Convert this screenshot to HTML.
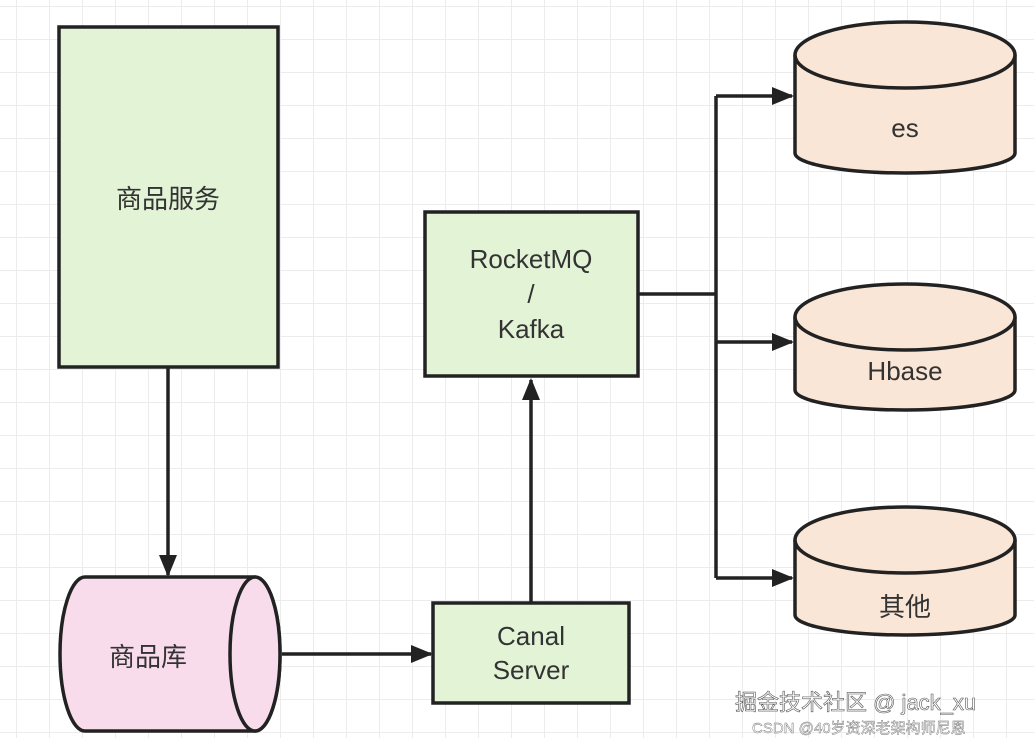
<!DOCTYPE html>
<html><head><meta charset="utf-8"><style>
body{margin:0;width:1034px;height:738px;overflow:hidden;background:#fff;
background-image:linear-gradient(#ececec 1px,transparent 1px),linear-gradient(90deg,#ececec 1px,transparent 1px);
background-size:33px 33px;background-position:16px 6px;}
svg{position:absolute;left:0;top:0}
text{font-family:"Liberation Sans","Noto Sans CJK SC",sans-serif;fill:#333;}
</style></head><body>
<svg width="1034" height="738" viewBox="0 0 1034 738">
<defs><marker id="a" markerWidth="10" markerHeight="10" refX="9" refY="5" orient="auto" markerUnits="userSpaceOnUse"><path d="M0,0 L10,5 L0,10 Z" fill="#222"/></marker>
<marker id="b" markerWidth="22" markerHeight="22" refX="20" refY="11" orient="auto" markerUnits="userSpaceOnUse"><path d="M0,2 L22,11 L0,20 Z" fill="#222"/></marker></defs>
<g stroke="#222" stroke-width="3.5" fill="none">
<rect x="59" y="27" width="219" height="340" fill="#e2f3d6"/>
<rect x="425" y="212" width="213" height="164" fill="#e2f3d6"/>
<rect x="433" y="603" width="196" height="100" fill="#e2f3d6"/>
<!-- horizontal cylinder -->
<path d="M85,577 L255,577 A25,77 0 0 1 255,731 L85,731 A25,77 0 0 1 85,577 Z" fill="#f9dcec"/>
<ellipse cx="255" cy="654" rx="25" ry="77" fill="#f9dcec"/>
<!-- vertical cylinders -->
<g fill="#fae6d6">
<path d="M795,55 L795,153 A110,20 0 0 0 1015,153 L1015,55"/>
<ellipse cx="905" cy="55" rx="110" ry="33"/>
<path d="M795,317 L795,390 A110,20 0 0 0 1015,390 L1015,317"/>
<ellipse cx="905" cy="317" rx="110" ry="33"/>
<path d="M795,540 L795,615 A110,20 0 0 0 1015,615 L1015,540"/>
<ellipse cx="905" cy="540" rx="110" ry="33"/>
</g>
<line x1="168" y1="367" x2="168" y2="575" marker-end="url(#b)"/>
<line x1="282" y1="654" x2="431" y2="654" marker-end="url(#b)"/>
<line x1="531" y1="603" x2="531" y2="380" marker-end="url(#b)"/>
<polyline points="638,294 716,294"/>
<polyline points="716,578 716,96"/>
<line x1="716" y1="96" x2="792" y2="96" marker-end="url(#b)"/>
<line x1="716" y1="342" x2="792" y2="342" marker-end="url(#b)"/>
<line x1="716" y1="578" x2="792" y2="578" marker-end="url(#b)"/>
</g>
<g font-size="26" text-anchor="middle">
<text x="168" y="208">商品服务</text>
<text x="148" y="666">商品库</text>
<text x="531" y="268">RocketMQ</text>
<text x="531" y="303">/</text>
<text x="531" y="338">Kafka</text>
<text x="531" y="645">Canal</text>
<text x="531" y="679">Server</text>
<text x="905" y="137">es</text>
<text x="905" y="380">Hbase</text>
<text x="905" y="616">其他</text>
</g>
<text x="735" y="710" font-size="22" style="fill:#fff;stroke:#555;stroke-width:0.6">掘金技术社区 @ jack_xu</text>
<text x="752" y="733" font-size="15" style="fill:#fff;stroke:#666;stroke-width:0.4">CSDN @40岁资深老架构师尼恩</text>
</svg>
</body></html>
